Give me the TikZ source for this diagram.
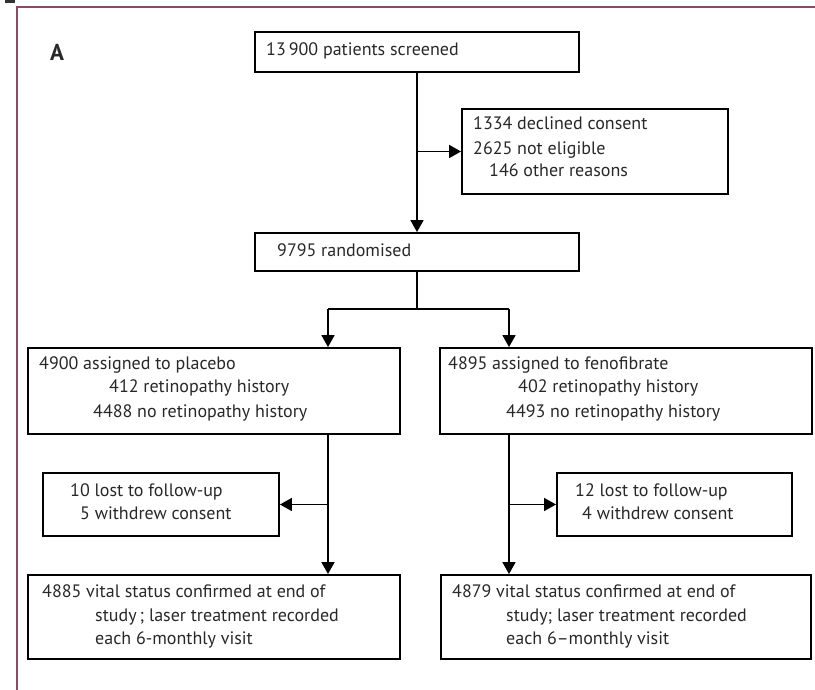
\documentclass[tikz,border=0pt]{standalone}
\usepackage{fontspec}
\setmainfont{PT Sans}
\usetikzlibrary{arrows.meta}
\definecolor{framecol}{RGB}{140,75,100}
\definecolor{txt}{RGB}{40,40,40}
\begin{document}
\begin{tikzpicture}[x=1pt,y=-1pt,
  box/.style={draw=black, line width=1.9pt, inner sep=0pt},
  ln/.style={anchor=west, inner sep=0pt, text=txt, font=\fontsize{18}{21}\selectfont, text height=12.5pt, text depth=4.5pt},
  conn/.style={line width=1.8pt, -{Triangle[length=12pt,width=13pt]}},
  plain/.style={line width=1.8pt}
]
\useasboundingbox (0,0) rectangle (815,690);
% frame
\fill[black!80] (5,0) rectangle (15,3.5);
\draw[framecol, line width=1.6pt] (17,690) -- (17,7) -- (815,7);
\node[inner sep=0pt, text=txt, font=\fontsize{23}{25}\selectfont\bfseries] (lab) at (57,52) {A};
% boxes
\node[box, minimum width=324pt, minimum height=40pt] (screen) at (417,52) {};
\node[box, minimum width=266pt, minimum height=85pt] (excl) at (595,151.5) {};
\node[box, minimum width=324pt, minimum height=38pt] (rand) at (417,252) {};
\node[box, minimum width=372pt, minimum height=86pt] (pl) at (214,391) {};
\node[box, minimum width=372pt, minimum height=86pt] (fe) at (626,391) {};
\node[box, minimum width=236pt, minimum height=63pt] (ll) at (161,504.5) {};
\node[box, minimum width=235pt, minimum height=63pt] (lr) at (674.5,504.5) {};
\node[box, minimum width=372pt, minimum height=84pt] (vl) at (214,617) {};
\node[box, minimum width=370pt, minimum height=84pt] (vr) at (626,617) {};
% texts
\node[ln] (s1) at (266,52) {13\,900 patients screened};
\node[ln] (e1) at (473,126) {1334 declined consent};
\node[ln] (e2) at (473,151) {2625 not eligible};
\node[ln] (e3) at (489,173) {146 other reasons};
\node[ln] (r1) at (277,253) {9795 randomised};
\node[ln] (p1) at (39,365) {4900 assigned to placebo};
\node[ln] (p2) at (109,388) {412 retinopathy history};
\node[ln] (p3) at (93,413) {4488 no retinopathy history};
\node[ln] (f1) at (448,365) {4895 assigned to fenofibrate};
\node[ln] (f2) at (518,388) {402 retinopathy history};
\node[ln] (f3) at (506,413) {4493 no retinopathy history};
\node[ln] (a1) at (70,492) {10 lost to follow-up};
\node[ln] (a2) at (80,515) {5 withdrew consent};
\node[ln] (b1) at (575,492) {12 lost to follow-up};
\node[ln] (b2) at (582,515) {4 withdrew consent};
\node[ln] (v1) at (42,593) {4885 vital status confirmed at end of};
\node[ln] (v2) at (95,617) {study\,; laser treatment recorded};
\node[ln] (v3) at (95,640) {each 6-monthly visit};
\node[ln] (w1) at (452,593) {4879 vital status confirmed at end of};
\node[ln] (w2) at (506,617) {study; laser treatment recorded};
\node[ln] (w3) at (506,640) {each 6--monthly visit};
% connectors
\coordinate (jl) at (328,309);
\coordinate (jr) at (509,309);
\draw[conn] (screen.south) -- (rand.north);
\draw[conn] (screen.south |- excl.west) -- (excl.west);
\draw[plain] (rand.south) -- (rand.south |- jl);
\draw[plain] (jl) -- (jr);
\draw[conn] (jl) -- (jl |- pl.north);
\draw[conn] (jr) -- (jr |- fe.north);
\draw[conn] (jl |- pl.south) -- (jl |- vl.north);
\draw[conn] (jl |- ll.east) -- (ll.east);
\draw[conn] (jr |- fe.south) -- (jr |- vr.north);
\draw[conn] (jr |- lr.west) -- (lr.west);
\end{tikzpicture}
\end{document}
